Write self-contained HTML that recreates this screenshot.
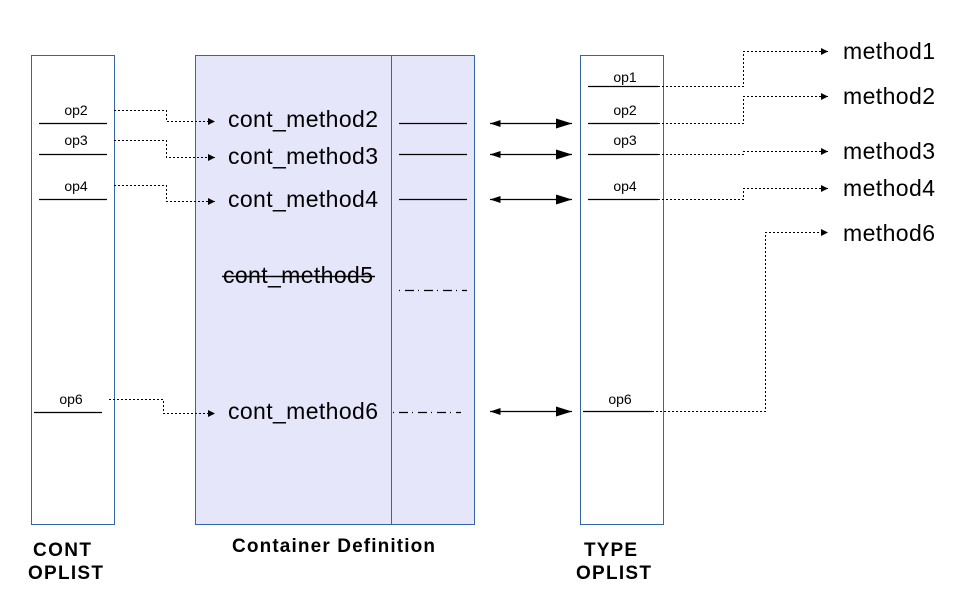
<!DOCTYPE html>
<html><head><style>body{margin:0;background:#fff}svg{display:block}text{font-family:"Liberation Sans",sans-serif}</style></head><body>
<svg width="954" height="603" viewBox="0 0 954 603" xmlns="http://www.w3.org/2000/svg">
<defs>
<marker id="a" viewBox="0 0 10 10" refX="10" refY="5" markerWidth="10" markerHeight="7" markerUnits="userSpaceOnUse" orient="auto"><path d="M0,0 L10,5 L0,10z" fill="#000"/></marker>
<marker id="b" viewBox="0 0 16 10" refX="16" refY="5" markerWidth="16" markerHeight="10" markerUnits="userSpaceOnUse" orient="auto"><path d="M0,0 L16,5 L0,10z" fill="#000"/></marker>
<marker id="c" viewBox="0 0 12 8" refX="12" refY="4" markerWidth="12" markerHeight="7" markerUnits="userSpaceOnUse" orient="auto-start-reverse"><path d="M0,0 L12,4 L0,8z" fill="#000"/></marker>
</defs>
<rect x="31.5" y="55.5" width="83" height="469" fill="#fff" stroke="#3465a4"/>
<rect x="195.5" y="55.5" width="279" height="469" fill="#e6e6fa" stroke="#3465a4"/>
<line x1="391.5" y1="55" x2="391.5" y2="524" stroke="#3465a4"/>
<rect x="580.5" y="55.5" width="83" height="469" fill="#fff" stroke="#3465a4"/>
<g stroke="#000" stroke-width="1.2">
<line x1="39" y1="123.5" x2="107" y2="123.5"/><line x1="39" y1="154.5" x2="107" y2="154.5"/><line x1="39" y1="199.5" x2="107" y2="199.5"/><line x1="34" y1="412.5" x2="102" y2="412.5"/>
<line x1="399" y1="123.5" x2="467" y2="123.5"/><line x1="399" y1="154.5" x2="467" y2="154.5"/><line x1="399" y1="199.5" x2="467" y2="199.5"/>
<line x1="399" y1="290.5" x2="467" y2="290.5" stroke-dasharray="1,5,9,4"/><line x1="393" y1="412.5" x2="461" y2="412.5" stroke-dasharray="1,5,9,4"/>
<line x1="588" y1="86.5" x2="658" y2="86.5"/><line x1="588" y1="123.5" x2="658" y2="123.5"/><line x1="588" y1="154.5" x2="658" y2="154.5"/><line x1="588" y1="199.5" x2="658" y2="199.5"/><line x1="583" y1="411.5" x2="652" y2="411.5"/>
</g>
<g stroke="#000" fill="none" stroke-dasharray="2,2">
<polyline points="114,110.5 166.5,110.5 166.5,121.5 215,121.5" marker-end="url(#a)"/>
<polyline points="114,140.5 166.5,140.5 166.5,157.5 215,157.5" marker-end="url(#a)"/>
<polyline points="114,185.5 166.5,185.5 166.5,201.5 215,201.5" marker-end="url(#a)"/>
<polyline points="109,399.5 163.5,399.5 163.5,413.5 215,413.5" marker-end="url(#a)"/>
<polyline points="658,86.5 743.5,86.5 743.5,51.5 828,51.5" marker-end="url(#a)"/>
<polyline points="658,123.5 743.5,123.5 743.5,96.5 828,96.5" marker-end="url(#a)"/>
<polyline points="658,154.5 743.5,154.5 743.5,151.5 828,151.5" marker-end="url(#a)"/>
<polyline points="658,199.5 743.5,199.5 743.5,188.5 828,188.5" marker-end="url(#a)"/>
<polyline points="652,411.5 765.5,411.5 765.5,232.5 828,232.5" marker-end="url(#a)"/>
</g>
<g stroke="#000" stroke-width="1.3">
<line x1="490" y1="123.5" x2="572" y2="123.5" marker-start="url(#c)" marker-end="url(#b)"/>
<line x1="490" y1="154.5" x2="572" y2="154.5" marker-start="url(#c)" marker-end="url(#b)"/>
<line x1="490" y1="199.5" x2="572" y2="199.5" marker-start="url(#c)" marker-end="url(#b)"/>
<line x1="490" y1="411.5" x2="572" y2="411.5" marker-start="url(#c)" marker-end="url(#b)"/>
</g>
<g font-size="14" fill="#000" text-anchor="middle">
<text x="76" y="115">op2</text><text x="76" y="145">op3</text><text x="76" y="191">op4</text><text x="71" y="404">op6</text>
<text x="625" y="82">op1</text><text x="625" y="115">op2</text><text x="625" y="145">op3</text><text x="625" y="191">op4</text><text x="620" y="404">op6</text>
</g>
<g font-size="23" fill="#000">
<text x="228" y="127" textLength="150">cont_method2</text><text x="228" y="164" textLength="150">cont_method3</text><text x="228" y="207" textLength="150">cont_method4</text>
<text x="223" y="283" textLength="150">cont_method5</text><text x="228" y="419" textLength="150">cont_method6</text>
<text x="843" y="59" textLength="92">method1</text><text x="843" y="104" textLength="92">method2</text><text x="843" y="159" textLength="92">method3</text><text x="843" y="196" textLength="92">method4</text><text x="843" y="241" textLength="92">method6</text>
</g>
<line x1="222" y1="276.5" x2="375" y2="276.5" stroke="#000" stroke-width="1.5"/>
<g font-size="19" font-weight="bold" fill="#000">
<text x="33" y="556" textLength="58">CONT</text><text x="28" y="579" textLength="75">OPLIST</text>
<text x="232" y="552" textLength="203">Container Definition</text>
<text x="584" y="556" textLength="53">TYPE</text><text x="576" y="579" textLength="75">OPLIST</text>
</g>
</svg>
</body></html>
